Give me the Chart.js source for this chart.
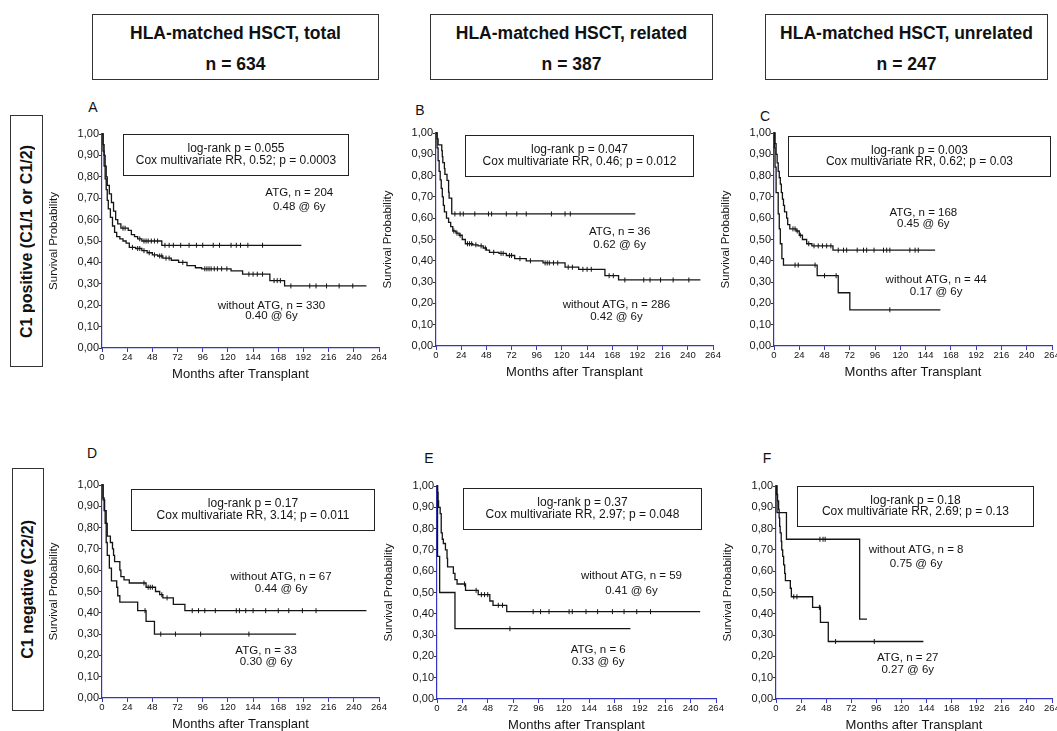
<!DOCTYPE html>
<html>
<head>
<meta charset="utf-8">
<script src="https://cdn.jsdelivr.net/npm/chart.js@4.4.1/dist/chart.umd.min.js"></script>
<style>
  body { margin: 0; background: #fff; width: 1057px; height: 731px; overflow: hidden; position: relative;
         font-family: "Liberation Sans", Arial, sans-serif; color: #111; }
  .hdr { position: absolute; top: 14px; height: 66px; border: 1px solid #333; box-sizing: border-box;
         text-align: center; font-weight: bold; font-size: 17.5px; }
  .hdr div { position: absolute; left: 0; right: 0; line-height: 20px; }
  .row { position: absolute; border: 1px solid #333; box-sizing: border-box;
         display: flex; align-items: center; justify-content: center; }
  .row span { writing-mode: vertical-rl; transform: rotate(180deg); font-weight: bold; font-size: 16px; white-space: nowrap; }
  .let { position: absolute; font-size: 14px; transform: translate(-50%, -50%); }
  canvas { position: absolute; }
</style>
</head>
<body>
<script>
// ---- texts ----
const headerTitles = ['HLA-matched HSCT, total', 'HLA-matched HSCT, related', 'HLA-matched HSCT, unrelated'];
const headerCounts = ['n = 634', 'n = 387', 'n = 247'];
const rowLabels = ['C1 positive (C1/1 or C1/2)', 'C1 negative (C2/2)'];
const panelLetters = ['A', 'B', 'C', 'D', 'E', 'F'];
const logRankText = ['log-rank p = 0.055', 'log-rank p = 0.047', 'log-rank p = 0.003',
                     'log-rank p = 0.17', 'log-rank p = 0.37', 'log-rank p = 0.18'];
const coxText = ['Cox multivariate RR, 0.52; p = 0.0003', 'Cox multivariate RR, 0.46; p = 0.012',
                 'Cox multivariate RR, 0.62; p = 0.03', 'Cox multivariate RR, 3.14; p = 0.011',
                 'Cox multivariate RR, 2.97; p = 0.048', 'Cox multivariate RR, 2.69; p = 0.13'];
const atgLabels = ['ATG, n = 204', 'ATG, n = 36', 'ATG, n = 168', 'ATG, n = 33', 'ATG, n = 6', 'ATG, n = 27'];
const atgAt6y = ['0.48 @ 6y', '0.62 @ 6y', '0.45 @ 6y', '0.30 @ 6y', '0.33 @ 6y', '0.27 @ 6y'];
const noAtgLabels = ['without ATG, n = 330', 'without ATG, n = 286', 'without ATG, n = 44',
                     'without ATG, n = 67', 'without ATG, n = 59', 'without ATG, n = 8'];
const noAtgAt6y = ['0.40 @ 6y', '0.42 @ 6y', '0.17 @ 6y', '0.44 @ 6y', '0.41 @ 6y', '0.75 @ 6y'];
const xTitle = 'Months after Transplant';
const yTitle = 'Survival Probability';

// ---- axis ticks ----
const xTicks = [0, 24, 48, 72, 96, 120, 144, 168, 192, 216, 240, 264];
const xTickLabels = ['0', '24', '48', '72', '96', '120', '144', '168', '192', '216', '240', '264'];
const yTicks = [0, 0.1, 0.2, 0.3, 0.4, 0.5, 0.6, 0.7, 0.8, 0.9, 1];
const yTickLabels = ['0,00', '0,10', '0,20', '0,30', '0,40', '0,50', '0,60', '0,70', '0,80', '0,90', '1,00'];

// ---- Kaplan-Meier curves [months, survival] and censor marks ----
// A: total, C1 positive
const atgA = [[0,1],[1,0.95],[2,0.90],[3,0.85],[4,0.80],[5,0.76],[7,0.72],[9,0.68],[11,0.64],[13,0.60],[15,0.58],[18,0.56],[25,0.55],[28,0.53],[31,0.52],[34,0.51],[38,0.50],[57,0.48],[190,0.48]];
const atgCensA = [[20,0.56],[22,0.56],[36,0.51],[40,0.50],[42,0.50],[44,0.50],[47,0.50],[50,0.50],[53,0.50],[60,0.48],[64,0.48],[68,0.48],[75,0.48],[83,0.48],[90,0.48],[96,0.48],[106,0.48],[112,0.48],[123,0.48],[128,0.48],[132,0.48],[139,0.48],[153,0.48]];
const noAtgA = [[0,1],[1,0.92],[2,0.85],[3,0.79],[4,0.74],[5,0.69],[6,0.65],[8,0.61],[10,0.57],[12,0.54],[14,0.52],[17,0.51],[20,0.50],[23,0.49],[26,0.47],[32,0.465],[38,0.455],[43,0.445],[48,0.435],[53,0.43],[58,0.42],[66,0.41],[73,0.40],[81,0.385],[89,0.375],[95,0.37],[123,0.36],[134,0.345],[160,0.315],[174,0.29],[252,0.29]];
const noAtgCensA = [[29,0.47],[34,0.465],[36,0.465],[40,0.455],[45,0.445],[50,0.435],[55,0.43],[57,0.43],[61,0.42],[64,0.42],[77,0.40],[98,0.37],[100,0.37],[102,0.37],[104,0.37],[107,0.37],[110,0.37],[114,0.37],[119,0.37],[140,0.345],[144,0.345],[148,0.345],[153,0.345],[164,0.315],[167,0.315],[170,0.315],[180,0.29],[198,0.29],[204,0.29],[214,0.29],[226,0.29],[239,0.29]];

// B: related, C1 positive
const atgB = [[0,1],[1,0.972],[2,0.944],[5.5,0.917],[6,0.889],[6.5,0.861],[8,0.833],[8.5,0.806],[10.5,0.778],[12,0.722],[12.5,0.694],[15,0.62],[190,0.62]];
const atgCensB = [[18,0.62],[23,0.62],[26,0.62],[37,0.62],[50,0.62],[53,0.62],[67,0.62],[77,0.62],[86,0.62],[110,0.62],[123,0.62],[128,0.62]];
const noAtgB = [[0,1],[1,0.93],[2,0.87],[3,0.82],[4,0.78],[5,0.74],[6,0.70],[7,0.66],[8,0.63],[10,0.60],[12,0.58],[14,0.56],[16,0.54],[19,0.53],[22,0.52],[25,0.50],[28,0.48],[35,0.475],[40,0.47],[45,0.46],[48,0.45],[51,0.44],[60,0.435],[67,0.425],[75,0.41],[86,0.40],[102,0.39],[123,0.37],[136,0.36],[161,0.33],[174,0.31],[252,0.31]];
const noAtgCensB = [[17,0.54],[20,0.53],[23,0.52],[30,0.48],[32,0.48],[34,0.48],[38,0.475],[43,0.47],[47,0.46],[55,0.44],[62,0.435],[64,0.435],[70,0.425],[72,0.425],[80,0.41],[90,0.40],[104,0.39],[106,0.39],[108,0.39],[112,0.39],[116,0.39],[126,0.37],[130,0.37],[140,0.36],[144,0.36],[148,0.36],[165,0.33],[169,0.33],[180,0.31],[198,0.31],[204,0.31],[214,0.31],[226,0.31],[241,0.31]];

// C: unrelated, C1 positive
const atgC = [[0,1],[1,0.95],[2,0.90],[3,0.86],[4,0.82],[5,0.79],[6,0.76],[7,0.72],[8,0.69],[9,0.66],[10,0.63],[12,0.60],[13,0.57],[15,0.55],[21,0.54],[24,0.52],[27,0.50],[31,0.48],[36,0.47],[56,0.45],[153,0.45]];
const atgCensC = [[18,0.55],[20,0.55],[22,0.54],[25,0.52],[33,0.48],[38,0.47],[42,0.47],[46,0.47],[50,0.47],[54,0.47],[61,0.45],[66,0.45],[69,0.45],[79,0.45],[85,0.45],[88,0.45],[95,0.45],[104,0.45],[107,0.45],[110,0.45],[129,0.45],[134,0.45],[137,0.45]];
const noAtgC = [[0,1],[0.5,0.93],[1,0.84],[2,0.72],[4,0.62],[5,0.55],[6,0.48],[7.5,0.41],[9,0.38],[41,0.33],[61,0.25],[72,0.17],[158,0.17]];
const noAtgCensC = [[20,0.38],[23,0.38],[39,0.38],[48,0.33],[59,0.33],[110,0.17]];

// D: total, C1 negative
const atgD = [[0,1],[1,0.94],[2,0.88],[3,0.82],[4,0.73],[5,0.67],[7,0.61],[9,0.55],[14,0.52],[15,0.48],[17,0.45],[34,0.41],[42,0.36],[50,0.30],[185,0.30]];
const atgCensD = [[41,0.41],[56,0.30],[70,0.30],[94,0.30],[140,0.30]];
const noAtgD = [[0,1],[1,0.93],[2.5,0.88],[4,0.82],[5,0.76],[8,0.73],[10,0.70],[11,0.67],[12,0.64],[17,0.60],[18,0.57],[21,0.555],[26,0.54],[42,0.52],[51,0.50],[55,0.485],[58,0.47],[68,0.44],[79,0.41],[252,0.41]];
const noAtgCensD = [[40,0.54],[44,0.52],[46,0.52],[48,0.52],[57,0.485],[62,0.47],[86,0.41],[92,0.41],[98,0.41],[108,0.41],[128,0.41],[131,0.41],[137,0.41],[144,0.41],[156,0.41],[168,0.41],[178,0.41],[191,0.41],[204,0.41]];

// E: related, C1 negative
const atgE = [[0,1],[0.5,0.67],[2.5,0.50],[17,0.33],[183,0.33]];
const atgCensE = [[69,0.33]];
const noAtgE = [[0,1],[0.5,0.97],[1,0.93],[1.5,0.90],[3,0.87],[4,0.78],[5,0.75],[6,0.73],[8,0.70],[9.5,0.66],[10,0.62],[15.5,0.59],[17,0.56],[19,0.54],[27,0.51],[39,0.49],[50,0.46],[53,0.44],[66,0.41],[249,0.41]];
const noAtgCensE = [[26,0.54],[37,0.51],[42,0.49],[45,0.49],[48,0.49],[58,0.44],[62,0.44],[91,0.41],[98,0.41],[106,0.41],[125,0.41],[128,0.41],[141,0.41],[152,0.41],[166,0.41],[177,0.41],[189,0.41],[202,0.41]];

// F: unrelated, C1 negative
const atgF = [[0,1],[0.5,0.96],[1.5,0.93],[2.5,0.89],[3,0.85],[3.5,0.81],[4,0.78],[5,0.74],[5.5,0.70],[6.4,0.67],[7.3,0.63],[8.3,0.59],[9,0.556],[13.7,0.52],[14.7,0.48],[35,0.43],[42.5,0.36],[50,0.27],[141,0.27]];
const atgCensF = [[17,0.48],[20,0.48],[41.5,0.43],[42,0.43],[57,0.27],[94,0.27]];
const noAtgF = [[0,1],[1,0.875],[10,0.75],[80,0.375],[87,0.375]];
const noAtgCensF = [[42,0.75],[45,0.75],[47,0.75]];

const atgCurves = [atgA, atgB, atgC, atgD, atgE, atgF];
const atgCens = [atgCensA, atgCensB, atgCensC, atgCensD, atgCensE, atgCensF];
const noAtgCurves = [noAtgA, noAtgB, noAtgC, noAtgD, noAtgE, noAtgF];
const noAtgCens = [noAtgCensA, noAtgCensB, noAtgCensC, noAtgCensD, noAtgCensE, noAtgCensF];

// ---- layout (page pixels for plot areas, data units for notes) ----
const layout = [
  {left: 102, top: 134, w: 277, h: 214, letter: [93, 107],  box: [20, 234, 1.0, 0.81],   atg: [188, 0.726, 0.66],  no: [161.5, 0.199, 0.148]},
  {left: 436, top: 133, w: 277, h: 213, letter: [420, 110], box: [27.6, 245, 0.99, 0.80], atg: [175, 0.535, 0.473], no: [172, 0.194, 0.136]},
  {left: 774, top: 133, w: 278, h: 213, letter: [765, 116], box: [13.3, 262, 0.985, 0.80], atg: [141.8, 0.627, 0.575], no: [154, 0.31, 0.252]},
  {left: 102, top: 485, w: 277, h: 213, letter: [92, 453],  box: [27.5, 259, 0.98, 0.79], atg: [156.4, 0.223, 0.172], no: [170.7, 0.57, 0.511]},
  {left: 437, top: 486, w: 279, h: 213, letter: [429, 458], box: [25, 250, 0.99, 0.80],   atg: [152.5, 0.23, 0.175], no: [184, 0.58, 0.51]},
  {left: 776, top: 486, w: 276, h: 213, letter: [767, 458], box: [20, 246, 1.0, 0.81],    atg: [126, 0.195, 0.136], no: [134, 0.70, 0.635]}
];
const headerBoxes = [[92, 287], [430, 283], [765, 283]];
const rowBoxes = [[10, 115, 33, 252], [12, 468, 32, 243]];

const FONT = '"Liberation Sans", Arial, sans-serif';
const AXIS_BLUE = '#3535c0';
const INK = '#141414';

// headers
headerTitles.forEach((t, i) => {
  const d = document.createElement('div');
  d.className = 'hdr';
  d.style.left = headerBoxes[i][0] + 'px';
  d.style.width = headerBoxes[i][1] + 'px';
  d.innerHTML = '<div style="top:8px">' + t + '</div><div style="top:39px">' + headerCounts[i] + '</div>';
  document.body.appendChild(d);
});
// row labels
rowLabels.forEach((t, i) => {
  const [l, tp, w, h] = rowBoxes[i];
  const d = document.createElement('div');
  d.className = 'row';
  Object.assign(d.style, {left: l + 'px', top: tp + 'px', width: w + 'px', height: h + 'px'});
  const s = document.createElement('span');
  s.textContent = t;
  d.appendChild(s);
  document.body.appendChild(d);
});

// draws the stats box and the group labels in data units
const kmNotes = {
  id: 'kmNotes',
  afterDatasetsDraw(chart, args, o) {
    const {ctx} = chart;
    const x = chart.scales.x, y = chart.scales.y;
    const [bx1, bx2, by1, by2] = o.box;
    const L = Math.round(x.getPixelForValue(bx1)) + 0.5, R = Math.round(x.getPixelForValue(bx2)) + 0.5;
    const T = Math.round(y.getPixelForValue(by1)) + 0.5, B = Math.round(y.getPixelForValue(by2)) + 0.5;
    ctx.save();
    ctx.fillStyle = '#fff';
    ctx.fillRect(L, T, R - L, B - T);
    ctx.strokeStyle = '#222';
    ctx.lineWidth = 1;
    ctx.strokeRect(L, T, R - L, B - T);
    ctx.fillStyle = INK;
    ctx.textAlign = 'center';
    ctx.textBaseline = 'middle';
    ctx.font = '12px ' + FONT;
    const cx = (L + R) / 2, h = B - T;
    ctx.fillText(o.stats[0], cx, T + h * 0.35);
    ctx.fillText(o.stats[1], cx, T + h * 0.64);
    ctx.font = '11.5px ' + FONT;
    o.groups.forEach(g => {
      const gx = x.getPixelForValue(g.at[0]);
      ctx.fillText(g.text[0], gx, y.getPixelForValue(g.at[1]));
      ctx.fillText(g.text[1], gx, y.getPixelForValue(g.at[2]));
    });
    ctx.restore();
  }
};

const toXY = arr => arr.map(p => ({x: p[0], y: p[1]}));
const Y_W = 60, PAD_T = 10, PAD_R = 12, X_H = 36;

layout.forEach((p, i) => {
  const letter = document.createElement('div');
  letter.className = 'let';
  letter.style.left = p.letter[0] + 'px';
  letter.style.top = p.letter[1] + 'px';
  letter.textContent = panelLetters[i];
  document.body.appendChild(letter);

  const cv = document.createElement('canvas');
  cv.width = Y_W + p.w + PAD_R;
  cv.height = PAD_T + p.h + X_H;
  cv.style.left = (p.left - Y_W) + 'px';
  cv.style.top = (p.top - PAD_T) + 'px';
  document.body.appendChild(cv);

  const curve = (data) => ({data: toXY(data), stepped: true, borderColor: INK, borderWidth: 1.3,
                            pointRadius: 0, fill: false, clip: 4});
  const cens = (data) => ({data: toXY(data), showLine: false, pointStyle: 'line', pointRotation: 90,
                           pointRadius: 2.5, pointBorderColor: INK, pointBorderWidth: 1, clip: 4});

  new Chart(cv, {
    type: 'line',
    data: {
      datasets: [curve(atgCurves[i]), cens(atgCens[i]), curve(noAtgCurves[i]), cens(noAtgCens[i])]
    },
    plugins: [kmNotes],
    options: {
      responsive: false,
      animation: false,
      devicePixelRatio: 1,
      layout: {padding: {top: PAD_T, right: PAD_R, left: 0, bottom: 0}},
      plugins: {
        legend: {display: false},
        tooltip: {enabled: false},
        kmNotes: {
          box: p.box,
          stats: [logRankText[i], coxText[i]],
          groups: [
            {text: [atgLabels[i], atgAt6y[i]], at: p.atg},
            {text: [noAtgLabels[i], noAtgAt6y[i]], at: p.no}
          ]
        }
      },
      scales: {
        x: {
          type: 'linear', min: 0, max: 264,
          afterBuildTicks: s => { s.ticks = xTicks.map(v => ({value: v})); },
          afterFit: s => { s.height = X_H; },
          ticks: {autoSkip: false, maxRotation: 0, padding: 0, color: INK,
                  font: {family: FONT, size: 9.5},
                  callback: (v, k) => xTickLabels[k]},
          grid: {drawOnChartArea: false, tickLength: 4, color: AXIS_BLUE},
          border: {color: AXIS_BLUE, width: 1.2},
          title: {display: true, text: xTitle, color: INK, font: {family: FONT, size: 13},
                  padding: {top: 0, bottom: 2}}
        },
        y: {
          min: 0, max: 1,
          afterBuildTicks: s => { s.ticks = yTicks.map(v => ({value: v})); },
          afterFit: s => { s.width = Y_W; },
          ticks: {padding: 0, color: INK, font: {family: FONT, size: 11},
                  callback: (v, k) => yTickLabels[k]},
          grid: {drawOnChartArea: false, tickLength: 3, color: '#333'},
          border: {color: AXIS_BLUE, width: 1.2},
          title: {display: true, text: yTitle, color: INK, font: {family: FONT, size: 11.5},
                  padding: {top: 5, bottom: 0}}
        }
      }
    }
  });
});
</script>
</body>
</html>
